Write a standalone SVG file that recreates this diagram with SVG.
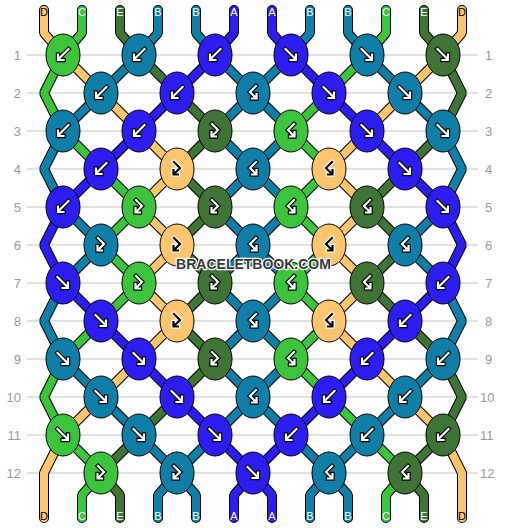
<svg xmlns="http://www.w3.org/2000/svg" xmlns:xlink="http://www.w3.org/1999/xlink" width="506" height="528" viewBox="0 0 506 528">
<style>
.grid{stroke:#c4c4c4;stroke-width:1}
.rn{font-family:"Liberation Sans",Arial,sans-serif;font-size:13px;fill:#999}
.sl{font-family:"Liberation Sans",Arial,sans-serif;font-size:11px;text-anchor:middle;fill:#fff}
.sl.dk{fill:#000}
.o{fill:none;stroke:#000;stroke-width:10;stroke-linejoin:bevel;stroke-linecap:round}
.s{fill:none;stroke-width:8;stroke-linejoin:bevel;stroke-linecap:round}
.cA{stroke:#2c1ef0}.cB{stroke:#107fa8}.cC{stroke:#3cc43c}.cD{stroke:#fec56f}.cE{stroke:#3e7535}
.kn{stroke:#000;stroke-width:1}
.kA{fill:#2c1ef0}.kB{fill:#107fa8}.kC{fill:#3cc43c}.kD{fill:#fec56f}.kE{fill:#3e7535}
.ab{fill:none;stroke:#000;stroke-width:4.4;stroke-linecap:square;stroke-linejoin:miter}
.aw{fill:none;stroke:#fff;stroke-width:2.2;stroke-linecap:square;stroke-linejoin:miter}
.abD{fill:none;stroke:#fff;stroke-width:4.4;stroke-linecap:square;stroke-linejoin:miter}
.awD{fill:none;stroke:#000;stroke-width:2.2;stroke-linecap:square;stroke-linejoin:miter}
.wm{font-family:"Liberation Sans",Arial,sans-serif;font-size:14px;font-weight:bold;text-anchor:middle;fill:#383838;stroke:#fff;stroke-width:2.4;paint-order:stroke;stroke-linejoin:round}
</style>
<defs>
<path id="aSW" d="M5.5,-6 L-4,3.5 M-5,-0.5 L-5,5 L0.5,5"/>
<path id="aSE" d="M-5.5,-6 L4,3.5 M5,-0.5 L5,5 L-0.5,5"/>
<path id="aFB" d="M-3,-7 L3,-1 L-3,5 M-3.5,1 L-3.5,5.5 L1,5.5"/>
<path id="aBF" d="M3,-7 L-3,-1 L3,5 M3.5,1 L3.5,5.5 L-1,5.5"/>
</defs>
<rect width="506" height="528" fill="#fff"/>
<g id="grid">
<line class="grid" x1="27" y1="55" x2="478" y2="55"/>
<line class="grid" x1="27" y1="93" x2="478" y2="93"/>
<line class="grid" x1="27" y1="131" x2="478" y2="131"/>
<line class="grid" x1="27" y1="169" x2="478" y2="169"/>
<line class="grid" x1="27" y1="207" x2="478" y2="207"/>
<line class="grid" x1="27" y1="245" x2="478" y2="245"/>
<line class="grid" x1="27" y1="283" x2="478" y2="283"/>
<line class="grid" x1="27" y1="321" x2="478" y2="321"/>
<line class="grid" x1="27" y1="359" x2="478" y2="359"/>
<line class="grid" x1="27" y1="397" x2="478" y2="397"/>
<line class="grid" x1="27" y1="435" x2="478" y2="435"/>
<line class="grid" x1="27" y1="473" x2="478" y2="473"/>
</g>
<g id="row-labels">
<text class="rn" x="21" y="60" text-anchor="end">1</text>
<text class="rn" x="21" y="98" text-anchor="end">2</text>
<text class="rn" x="21" y="136" text-anchor="end">3</text>
<text class="rn" x="21" y="174" text-anchor="end">4</text>
<text class="rn" x="21" y="212" text-anchor="end">5</text>
<text class="rn" x="21" y="250" text-anchor="end">6</text>
<text class="rn" x="21" y="288" text-anchor="end">7</text>
<text class="rn" x="21" y="326" text-anchor="end">8</text>
<text class="rn" x="21" y="364" text-anchor="end">9</text>
<text class="rn" x="21" y="402" text-anchor="end">10</text>
<text class="rn" x="21" y="440" text-anchor="end">11</text>
<text class="rn" x="21" y="478" text-anchor="end">12</text>
<text class="rn" x="485" y="60">1</text>
<text class="rn" x="485" y="98">2</text>
<text class="rn" x="485" y="136">3</text>
<text class="rn" x="485" y="174">4</text>
<text class="rn" x="485" y="212">5</text>
<text class="rn" x="485" y="250">6</text>
<text class="rn" x="485" y="288">7</text>
<text class="rn" x="485" y="326">8</text>
<text class="rn" x="485" y="364">9</text>
<text class="rn" x="480" y="402">10</text>
<text class="rn" x="480" y="440">11</text>
<text class="rn" x="480" y="478">12</text>
</g>
<g id="connectors">
<polyline class="o" points="44,10 44,33 63,55 101,93 139,131 177,169 139,207 177,245 139,283 177,321 139,359 101,397 63,435 44,473 44,518"/>
<polyline class="o" points="82,10 82,33 63,55 44,93 63,131 101,169 139,207 101,245 139,283 101,321 63,359 44,397 63,435 101,473 82,495 82,518"/>
<polyline class="o" points="120,10 120,33 139,55 177,93 215,131 177,169 215,207 177,245 215,283 177,321 215,359 177,397 139,435 101,473 120,495 120,518"/>
<polyline class="o" points="158,10 158,33 139,55 101,93 63,131 44,169 63,207 101,245 63,283 44,321 63,359 101,397 139,435 177,473 158,495 158,518"/>
<polyline class="o" points="196,10 196,33 215,55 253,93 215,131 253,169 215,207 253,245 215,283 253,321 215,359 253,397 215,435 177,473 196,495 196,518"/>
<polyline class="o" points="234,10 234,33 215,55 177,93 139,131 101,169 63,207 44,245 63,283 101,321 139,359 177,397 215,435 253,473 272,495 272,518"/>
<polyline class="o" points="272,10 272,33 291,55 329,93 367,131 405,169 443,207 462,245 443,283 405,321 367,359 329,397 291,435 253,473 234,495 234,518"/>
<polyline class="o" points="310,10 310,33 291,55 253,93 291,131 253,169 291,207 253,245 291,283 253,321 291,359 253,397 291,435 329,473 310,495 310,518"/>
<polyline class="o" points="348,10 348,33 367,55 405,93 443,131 462,169 443,207 405,245 443,283 462,321 443,359 405,397 367,435 329,473 348,495 348,518"/>
<polyline class="o" points="386,10 386,33 367,55 329,93 291,131 329,169 291,207 329,245 291,283 329,321 291,359 329,397 367,435 405,473 386,495 386,518"/>
<polyline class="o" points="424,10 424,33 443,55 462,93 443,131 405,169 367,207 405,245 367,283 405,321 443,359 462,397 443,435 405,473 424,495 424,518"/>
<polyline class="o" points="462,10 462,33 443,55 405,93 367,131 329,169 367,207 329,245 367,283 329,321 367,359 405,397 443,435 462,473 462,518"/>
<polyline class="s cD" points="44,10 44,33 63,55 101,93 139,131 177,169 139,207 177,245 139,283 177,321 139,359 101,397 63,435 44,473 44,518"/>
<polyline class="s cC" points="82,10 82,33 63,55 44,93 63,131 101,169 139,207 101,245 139,283 101,321 63,359 44,397 63,435 101,473 82,495 82,518"/>
<polyline class="s cE" points="120,10 120,33 139,55 177,93 215,131 177,169 215,207 177,245 215,283 177,321 215,359 177,397 139,435 101,473 120,495 120,518"/>
<polyline class="s cB" points="158,10 158,33 139,55 101,93 63,131 44,169 63,207 101,245 63,283 44,321 63,359 101,397 139,435 177,473 158,495 158,518"/>
<polyline class="s cB" points="196,10 196,33 215,55 253,93 215,131 253,169 215,207 253,245 215,283 253,321 215,359 253,397 215,435 177,473 196,495 196,518"/>
<polyline class="s cA" points="234,10 234,33 215,55 177,93 139,131 101,169 63,207 44,245 63,283 101,321 139,359 177,397 215,435 253,473 272,495 272,518"/>
<polyline class="s cA" points="272,10 272,33 291,55 329,93 367,131 405,169 443,207 462,245 443,283 405,321 367,359 329,397 291,435 253,473 234,495 234,518"/>
<polyline class="s cB" points="310,10 310,33 291,55 253,93 291,131 253,169 291,207 253,245 291,283 253,321 291,359 253,397 291,435 329,473 310,495 310,518"/>
<polyline class="s cB" points="348,10 348,33 367,55 405,93 443,131 462,169 443,207 405,245 443,283 462,321 443,359 405,397 367,435 329,473 348,495 348,518"/>
<polyline class="s cC" points="386,10 386,33 367,55 329,93 291,131 329,169 291,207 329,245 291,283 329,321 291,359 329,397 367,435 405,473 386,495 386,518"/>
<polyline class="s cE" points="424,10 424,33 443,55 462,93 443,131 405,169 367,207 405,245 367,283 405,321 443,359 462,397 443,435 405,473 424,495 424,518"/>
<polyline class="s cD" points="462,10 462,33 443,55 405,93 367,131 329,169 367,207 329,245 367,283 329,321 367,359 405,397 443,435 462,473 462,518"/>
</g>
<g id="string-labels">
<text class="sl dk" x="44" y="16">D</text><text class="sl" x="82" y="16">C</text><text class="sl" x="120" y="16">E</text><text class="sl" x="158" y="16">B</text><text class="sl" x="196" y="16">B</text><text class="sl" x="234" y="16">A</text><text class="sl" x="272" y="16">A</text><text class="sl" x="310" y="16">B</text><text class="sl" x="348" y="16">B</text><text class="sl" x="386" y="16">C</text><text class="sl" x="424" y="16">E</text><text class="sl dk" x="462" y="16">D</text>
<text class="sl dk" x="44" y="520">D</text><text class="sl" x="82" y="520">C</text><text class="sl" x="120" y="520">E</text><text class="sl" x="158" y="520">B</text><text class="sl" x="196" y="520">B</text><text class="sl" x="234" y="520">A</text><text class="sl" x="272" y="520">A</text><text class="sl" x="310" y="520">B</text><text class="sl" x="348" y="520">B</text><text class="sl" x="386" y="520">C</text><text class="sl" x="424" y="520">E</text><text class="sl dk" x="462" y="520">D</text>
</g>
<g id="knots">
<g id="k1-1" transform="translate(63,55)"><ellipse class="kn kC" rx="17" ry="21"/><use xlink:href="#aSW" class="ab"/><use xlink:href="#aSW" class="aw"/></g>
<g id="k1-2" transform="translate(139,55)"><ellipse class="kn kB" rx="17" ry="21"/><use xlink:href="#aSW" class="ab"/><use xlink:href="#aSW" class="aw"/></g>
<g id="k1-3" transform="translate(215,55)"><ellipse class="kn kA" rx="17" ry="21"/><use xlink:href="#aSW" class="ab"/><use xlink:href="#aSW" class="aw"/></g>
<g id="k1-4" transform="translate(291,55)"><ellipse class="kn kA" rx="17" ry="21"/><use xlink:href="#aSE" class="ab"/><use xlink:href="#aSE" class="aw"/></g>
<g id="k1-5" transform="translate(367,55)"><ellipse class="kn kB" rx="17" ry="21"/><use xlink:href="#aSE" class="ab"/><use xlink:href="#aSE" class="aw"/></g>
<g id="k1-6" transform="translate(443,55)"><ellipse class="kn kE" rx="17" ry="21"/><use xlink:href="#aSE" class="ab"/><use xlink:href="#aSE" class="aw"/></g>
<g id="k2-1" transform="translate(101,93)"><ellipse class="kn kB" rx="17" ry="21"/><use xlink:href="#aSW" class="ab"/><use xlink:href="#aSW" class="aw"/></g>
<g id="k2-2" transform="translate(177,93)"><ellipse class="kn kA" rx="17" ry="21"/><use xlink:href="#aSW" class="ab"/><use xlink:href="#aSW" class="aw"/></g>
<g id="k2-3" transform="translate(253,93)"><ellipse class="kn kB" rx="17" ry="21"/><use xlink:href="#aBF" class="ab"/><use xlink:href="#aBF" class="aw"/></g>
<g id="k2-4" transform="translate(329,93)"><ellipse class="kn kA" rx="17" ry="21"/><use xlink:href="#aSE" class="ab"/><use xlink:href="#aSE" class="aw"/></g>
<g id="k2-5" transform="translate(405,93)"><ellipse class="kn kB" rx="17" ry="21"/><use xlink:href="#aSE" class="ab"/><use xlink:href="#aSE" class="aw"/></g>
<g id="k3-1" transform="translate(63,131)"><ellipse class="kn kB" rx="17" ry="21"/><use xlink:href="#aSW" class="ab"/><use xlink:href="#aSW" class="aw"/></g>
<g id="k3-2" transform="translate(139,131)"><ellipse class="kn kA" rx="17" ry="21"/><use xlink:href="#aSW" class="ab"/><use xlink:href="#aSW" class="aw"/></g>
<g id="k3-3" transform="translate(215,131)"><ellipse class="kn kE" rx="17" ry="21"/><use xlink:href="#aFB" class="ab"/><use xlink:href="#aFB" class="aw"/></g>
<g id="k3-4" transform="translate(291,131)"><ellipse class="kn kC" rx="17" ry="21"/><use xlink:href="#aBF" class="ab"/><use xlink:href="#aBF" class="aw"/></g>
<g id="k3-5" transform="translate(367,131)"><ellipse class="kn kA" rx="17" ry="21"/><use xlink:href="#aSE" class="ab"/><use xlink:href="#aSE" class="aw"/></g>
<g id="k3-6" transform="translate(443,131)"><ellipse class="kn kB" rx="17" ry="21"/><use xlink:href="#aSE" class="ab"/><use xlink:href="#aSE" class="aw"/></g>
<g id="k4-1" transform="translate(101,169)"><ellipse class="kn kA" rx="17" ry="21"/><use xlink:href="#aSW" class="ab"/><use xlink:href="#aSW" class="aw"/></g>
<g id="k4-2" transform="translate(177,169)"><ellipse class="kn kD" rx="17" ry="21"/><use xlink:href="#aFB" class="abD"/><use xlink:href="#aFB" class="awD"/></g>
<g id="k4-3" transform="translate(253,169)"><ellipse class="kn kB" rx="17" ry="21"/><use xlink:href="#aBF" class="ab"/><use xlink:href="#aBF" class="aw"/></g>
<g id="k4-4" transform="translate(329,169)"><ellipse class="kn kD" rx="17" ry="21"/><use xlink:href="#aBF" class="abD"/><use xlink:href="#aBF" class="awD"/></g>
<g id="k4-5" transform="translate(405,169)"><ellipse class="kn kA" rx="17" ry="21"/><use xlink:href="#aSE" class="ab"/><use xlink:href="#aSE" class="aw"/></g>
<g id="k5-1" transform="translate(63,207)"><ellipse class="kn kA" rx="17" ry="21"/><use xlink:href="#aSW" class="ab"/><use xlink:href="#aSW" class="aw"/></g>
<g id="k5-2" transform="translate(139,207)"><ellipse class="kn kC" rx="17" ry="21"/><use xlink:href="#aFB" class="ab"/><use xlink:href="#aFB" class="aw"/></g>
<g id="k5-3" transform="translate(215,207)"><ellipse class="kn kE" rx="17" ry="21"/><use xlink:href="#aFB" class="ab"/><use xlink:href="#aFB" class="aw"/></g>
<g id="k5-4" transform="translate(291,207)"><ellipse class="kn kC" rx="17" ry="21"/><use xlink:href="#aBF" class="ab"/><use xlink:href="#aBF" class="aw"/></g>
<g id="k5-5" transform="translate(367,207)"><ellipse class="kn kE" rx="17" ry="21"/><use xlink:href="#aBF" class="ab"/><use xlink:href="#aBF" class="aw"/></g>
<g id="k5-6" transform="translate(443,207)"><ellipse class="kn kA" rx="17" ry="21"/><use xlink:href="#aSE" class="ab"/><use xlink:href="#aSE" class="aw"/></g>
<g id="k6-1" transform="translate(101,245)"><ellipse class="kn kB" rx="17" ry="21"/><use xlink:href="#aFB" class="ab"/><use xlink:href="#aFB" class="aw"/></g>
<g id="k6-2" transform="translate(177,245)"><ellipse class="kn kD" rx="17" ry="21"/><use xlink:href="#aFB" class="abD"/><use xlink:href="#aFB" class="awD"/></g>
<g id="k6-3" transform="translate(253,245)"><ellipse class="kn kB" rx="17" ry="21"/><use xlink:href="#aBF" class="ab"/><use xlink:href="#aBF" class="aw"/></g>
<g id="k6-4" transform="translate(329,245)"><ellipse class="kn kD" rx="17" ry="21"/><use xlink:href="#aBF" class="abD"/><use xlink:href="#aBF" class="awD"/></g>
<g id="k6-5" transform="translate(405,245)"><ellipse class="kn kB" rx="17" ry="21"/><use xlink:href="#aBF" class="ab"/><use xlink:href="#aBF" class="aw"/></g>
<g id="k7-1" transform="translate(63,283)"><ellipse class="kn kA" rx="17" ry="21"/><use xlink:href="#aSE" class="ab"/><use xlink:href="#aSE" class="aw"/></g>
<g id="k7-2" transform="translate(139,283)"><ellipse class="kn kC" rx="17" ry="21"/><use xlink:href="#aFB" class="ab"/><use xlink:href="#aFB" class="aw"/></g>
<g id="k7-3" transform="translate(215,283)"><ellipse class="kn kE" rx="17" ry="21"/><use xlink:href="#aFB" class="ab"/><use xlink:href="#aFB" class="aw"/></g>
<g id="k7-4" transform="translate(291,283)"><ellipse class="kn kC" rx="17" ry="21"/><use xlink:href="#aBF" class="ab"/><use xlink:href="#aBF" class="aw"/></g>
<g id="k7-5" transform="translate(367,283)"><ellipse class="kn kE" rx="17" ry="21"/><use xlink:href="#aBF" class="ab"/><use xlink:href="#aBF" class="aw"/></g>
<g id="k7-6" transform="translate(443,283)"><ellipse class="kn kA" rx="17" ry="21"/><use xlink:href="#aSW" class="ab"/><use xlink:href="#aSW" class="aw"/></g>
<g id="k8-1" transform="translate(101,321)"><ellipse class="kn kA" rx="17" ry="21"/><use xlink:href="#aSE" class="ab"/><use xlink:href="#aSE" class="aw"/></g>
<g id="k8-2" transform="translate(177,321)"><ellipse class="kn kD" rx="17" ry="21"/><use xlink:href="#aFB" class="abD"/><use xlink:href="#aFB" class="awD"/></g>
<g id="k8-3" transform="translate(253,321)"><ellipse class="kn kB" rx="17" ry="21"/><use xlink:href="#aBF" class="ab"/><use xlink:href="#aBF" class="aw"/></g>
<g id="k8-4" transform="translate(329,321)"><ellipse class="kn kD" rx="17" ry="21"/><use xlink:href="#aBF" class="abD"/><use xlink:href="#aBF" class="awD"/></g>
<g id="k8-5" transform="translate(405,321)"><ellipse class="kn kA" rx="17" ry="21"/><use xlink:href="#aSW" class="ab"/><use xlink:href="#aSW" class="aw"/></g>
<g id="k9-1" transform="translate(63,359)"><ellipse class="kn kB" rx="17" ry="21"/><use xlink:href="#aSE" class="ab"/><use xlink:href="#aSE" class="aw"/></g>
<g id="k9-2" transform="translate(139,359)"><ellipse class="kn kA" rx="17" ry="21"/><use xlink:href="#aSE" class="ab"/><use xlink:href="#aSE" class="aw"/></g>
<g id="k9-3" transform="translate(215,359)"><ellipse class="kn kE" rx="17" ry="21"/><use xlink:href="#aFB" class="ab"/><use xlink:href="#aFB" class="aw"/></g>
<g id="k9-4" transform="translate(291,359)"><ellipse class="kn kC" rx="17" ry="21"/><use xlink:href="#aBF" class="ab"/><use xlink:href="#aBF" class="aw"/></g>
<g id="k9-5" transform="translate(367,359)"><ellipse class="kn kA" rx="17" ry="21"/><use xlink:href="#aSW" class="ab"/><use xlink:href="#aSW" class="aw"/></g>
<g id="k9-6" transform="translate(443,359)"><ellipse class="kn kB" rx="17" ry="21"/><use xlink:href="#aSW" class="ab"/><use xlink:href="#aSW" class="aw"/></g>
<g id="k10-1" transform="translate(101,397)"><ellipse class="kn kB" rx="17" ry="21"/><use xlink:href="#aSE" class="ab"/><use xlink:href="#aSE" class="aw"/></g>
<g id="k10-2" transform="translate(177,397)"><ellipse class="kn kA" rx="17" ry="21"/><use xlink:href="#aSE" class="ab"/><use xlink:href="#aSE" class="aw"/></g>
<g id="k10-3" transform="translate(253,397)"><ellipse class="kn kB" rx="17" ry="21"/><use xlink:href="#aBF" class="ab"/><use xlink:href="#aBF" class="aw"/></g>
<g id="k10-4" transform="translate(329,397)"><ellipse class="kn kA" rx="17" ry="21"/><use xlink:href="#aSW" class="ab"/><use xlink:href="#aSW" class="aw"/></g>
<g id="k10-5" transform="translate(405,397)"><ellipse class="kn kB" rx="17" ry="21"/><use xlink:href="#aSW" class="ab"/><use xlink:href="#aSW" class="aw"/></g>
<g id="k11-1" transform="translate(63,435)"><ellipse class="kn kC" rx="17" ry="21"/><use xlink:href="#aSE" class="ab"/><use xlink:href="#aSE" class="aw"/></g>
<g id="k11-2" transform="translate(139,435)"><ellipse class="kn kB" rx="17" ry="21"/><use xlink:href="#aSE" class="ab"/><use xlink:href="#aSE" class="aw"/></g>
<g id="k11-3" transform="translate(215,435)"><ellipse class="kn kA" rx="17" ry="21"/><use xlink:href="#aSE" class="ab"/><use xlink:href="#aSE" class="aw"/></g>
<g id="k11-4" transform="translate(291,435)"><ellipse class="kn kA" rx="17" ry="21"/><use xlink:href="#aSW" class="ab"/><use xlink:href="#aSW" class="aw"/></g>
<g id="k11-5" transform="translate(367,435)"><ellipse class="kn kB" rx="17" ry="21"/><use xlink:href="#aSW" class="ab"/><use xlink:href="#aSW" class="aw"/></g>
<g id="k11-6" transform="translate(443,435)"><ellipse class="kn kE" rx="17" ry="21"/><use xlink:href="#aSW" class="ab"/><use xlink:href="#aSW" class="aw"/></g>
<g id="k12-1" transform="translate(101,473)"><ellipse class="kn kC" rx="17" ry="21"/><use xlink:href="#aFB" class="ab"/><use xlink:href="#aFB" class="aw"/></g>
<g id="k12-2" transform="translate(177,473)"><ellipse class="kn kB" rx="17" ry="21"/><use xlink:href="#aFB" class="ab"/><use xlink:href="#aFB" class="aw"/></g>
<g id="k12-3" transform="translate(253,473)"><ellipse class="kn kA" rx="17" ry="21"/><use xlink:href="#aSE" class="ab"/><use xlink:href="#aSE" class="aw"/></g>
<g id="k12-4" transform="translate(329,473)"><ellipse class="kn kB" rx="17" ry="21"/><use xlink:href="#aBF" class="ab"/><use xlink:href="#aBF" class="aw"/></g>
<g id="k12-5" transform="translate(405,473)"><ellipse class="kn kE" rx="17" ry="21"/><use xlink:href="#aBF" class="ab"/><use xlink:href="#aBF" class="aw"/></g>
</g>
<text class="wm" x="253.5" y="268.5">BRACELETBOOK.COM</text>
</svg>
